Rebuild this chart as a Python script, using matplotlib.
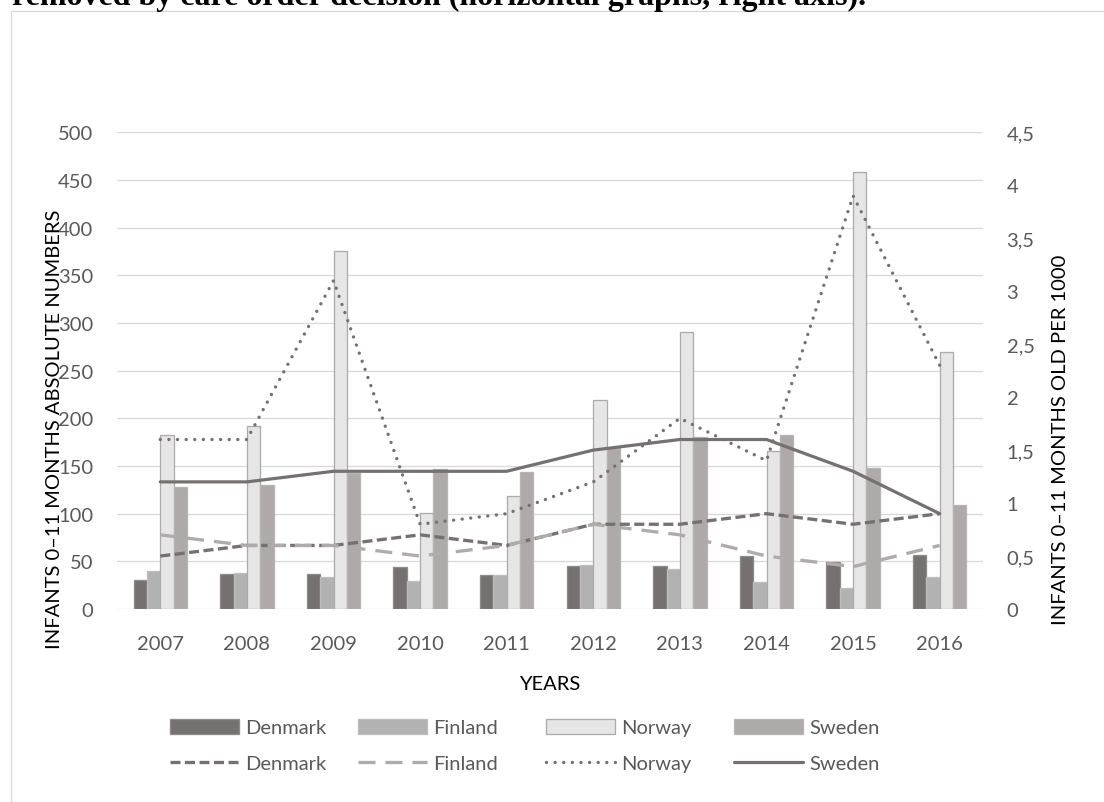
import matplotlib
matplotlib.use("Agg")
import matplotlib.pyplot as plt
import matplotlib.patches as mpatches
from matplotlib.lines import Line2D
import numpy as np

plt.rcParams['font.family'] = ['Lato', 'DejaVu Sans']
plt.rcParams['lines.scale_dashes'] = False

# ---------------- data ----------------
years = ['2007', '2008', '2009', '2010', '2011', '2012', '2013', '2014', '2015', '2016']
countries = ['Denmark', 'Finland', 'Norway', 'Sweden']

# absolute numbers (bars, left axis)
bar_denmark = [30, 37, 37, 44, 36, 45, 45, 56, 49, 57]
bar_finland = [40, 38, 34, 29, 36, 46, 42, 28, 22, 34]
bar_norway = [183, 192, 375, 101, 118, 219, 291, 166, 458, 270]
bar_sweden = [128, 130, 143, 147, 144, 169, 180, 183, 148, 109]

# per 1000 (lines, right axis)
rate_denmark = [0.5, 0.6, 0.6, 0.7, 0.6, 0.8, 0.8, 0.9, 0.8, 0.9]
rate_finland = [0.7, 0.6, 0.6, 0.5, 0.6, 0.8, 0.7, 0.5, 0.4, 0.6]
rate_norway = [1.6, 1.6, 3.1, 0.8, 0.9, 1.2, 1.8, 1.4, 3.9, 2.3]
rate_sweden = [1.2, 1.2, 1.3, 1.3, 1.3, 1.5, 1.6, 1.6, 1.3, 0.9]

left_ticks = [0, 50, 100, 150, 200, 250, 300, 350, 400, 450, 500]
left_tick_labels = ['0', '50', '100', '150', '200', '250', '300', '350', '400', '450', '500']
right_ticks = [0, 0.5, 1, 1.5, 2, 2.5, 3, 3.5, 4, 4.5]
right_tick_labels = ['0', '0,5', '1', '1,5', '2', '2,5', '3', '3,5', '4', '4,5']

title_text = 'removed by care order decision (horizontal graphs, right axis).'
xlabel_text = 'YEARS'
ylabel_left = 'INFANTS 0\u201311 MONTHS ABSOLUTE NUMBERS'
ylabel_right = 'INFANTS 0\u201311 MONTHS OLD PER 1000'

# ---------------- styles ----------------
bar_face = ['#767171', '#B2B2B2', '#E7E6E6', '#AEAAAA']
bar_edge = ['#8E8A8A', '#BEBEBE', '#AEAAAA', '#B8B4B4']
line_col = ['#767171', '#AFABAB', '#767171', '#767171']
px = 0.72  # points per pixel at dpi 100
line_styles = [
    dict(lw=3.3 * px, dashes=(10 * px, 4.5 * px), dash_capstyle='butt'),
    dict(lw=3.3 * px, dashes=(17 * px, 10 * px), dash_capstyle='butt'),
    dict(lw=3.4 * px, dashes=(0.01, 8.6 * px), dash_capstyle='round'),
    dict(lw=3.2 * px, linestyle='-', solid_capstyle='round'),
]
tick_color = '#595959'
grid_color = '#D9D9D9'
fs = 14.5

W, H = 1104, 803
fig = plt.figure(figsize=(W / 100, H / 100), dpi=100)

# outer chart border (only top/left visible)
fig.add_artist(mpatches.Rectangle((11 / W, 0 - 0.05), 1.2, 1 - 12.3 / H + 0.05,
                                  transform=fig.transFigure, fill=False,
                                  edgecolor=grid_color, lw=1.3 * px))

ax = fig.add_axes([117 / W, 1 - 610 / H, (983 - 117) / W, (610 - 133.3) / H])
ax2 = ax.twinx()

x = np.arange(len(years))
w = 0.154
bars_all = [bar_denmark, bar_finland, bar_norway, bar_sweden]
rates_all = [rate_denmark, rate_finland, rate_norway, rate_sweden]

bar_handles = []
for i, vals in enumerate(bars_all):
    ax.bar(x + (i - 1.5) * w, vals, width=w, color=bar_face[i],
           edgecolor=bar_edge[i], linewidth=1.3 * px, zorder=3)
    bar_handles.append(mpatches.Patch(facecolor=bar_face[i], edgecolor=bar_edge[i],
                                      linewidth=1.3 * px))

line_handles = []
for i, vals in enumerate(rates_all):
    ax2.plot(x, vals, color=line_col[i], zorder=4, **line_styles[i])
    line_handles.append(Line2D([], [], color=line_col[i], **line_styles[i]))

ax.set_xlim(-0.5, len(years) - 0.5)
ax.set_ylim(0, 500)
ax2.set_ylim(0, 4.5)
ax.set_yticks(left_ticks)
ax.set_yticklabels(left_tick_labels)
ax2.set_yticks(right_ticks)
ax2.set_yticklabels(right_tick_labels)
ax.set_xticks(x)
ax.set_xticklabels(years)

for a in (ax, ax2):
    for s in a.spines.values():
        s.set_visible(False)
    a.tick_params(length=0, labelsize=fs, labelcolor=tick_color)
ax.tick_params(axis='y', pad=17)
ax2.tick_params(axis='y', pad=17)
ax.tick_params(axis='x', pad=18.5)

ax.yaxis.grid(True, color=grid_color, lw=1.3 * px, zorder=0)
ax.set_axisbelow(True)

ax.set_xlabel(xlabel_text, fontsize=fs, color='black', labelpad=16.5)

fig.text(55 / W, 1 - 429 / H, ylabel_left, rotation=90, ha='center', va='center',
         fontsize=fs, color='black')
fig.text(1060 / W, 1 - 440 / H, ylabel_right, rotation=90, ha='center', va='center',
         fontsize=fs, color='black')

# title (partially cut off at the top)
t = fig.text(12 / W, 1 - 5.5 / H, title_text, ha='left', va='baseline',
             fontsize=20, fontweight='bold', family=['Liberation Serif', 'DejaVu Serif'],
             color='black')
fig.canvas.draw()
tw = t.get_window_extent().width
t.set_fontsize(20 * 853 / tw)

# legend: one small legend per country (bar row + line row)
col_x = [170, 358, 546, 734]
for i, c in enumerate(countries):
    fig.legend(handles=[bar_handles[i], line_handles[i]], labels=[c, c],
               loc='center left', bbox_to_anchor=(col_x[i] / W, 1 - 746.5 / H),
               frameon=False, borderpad=0, borderaxespad=0, fontsize=fs,
               handlelength=69 / 20.1, handleheight=0.75, handletextpad=0.3,
               labelspacing=0.92, labelcolor=tick_color)

fig.savefig('out.png', dpi=100)
